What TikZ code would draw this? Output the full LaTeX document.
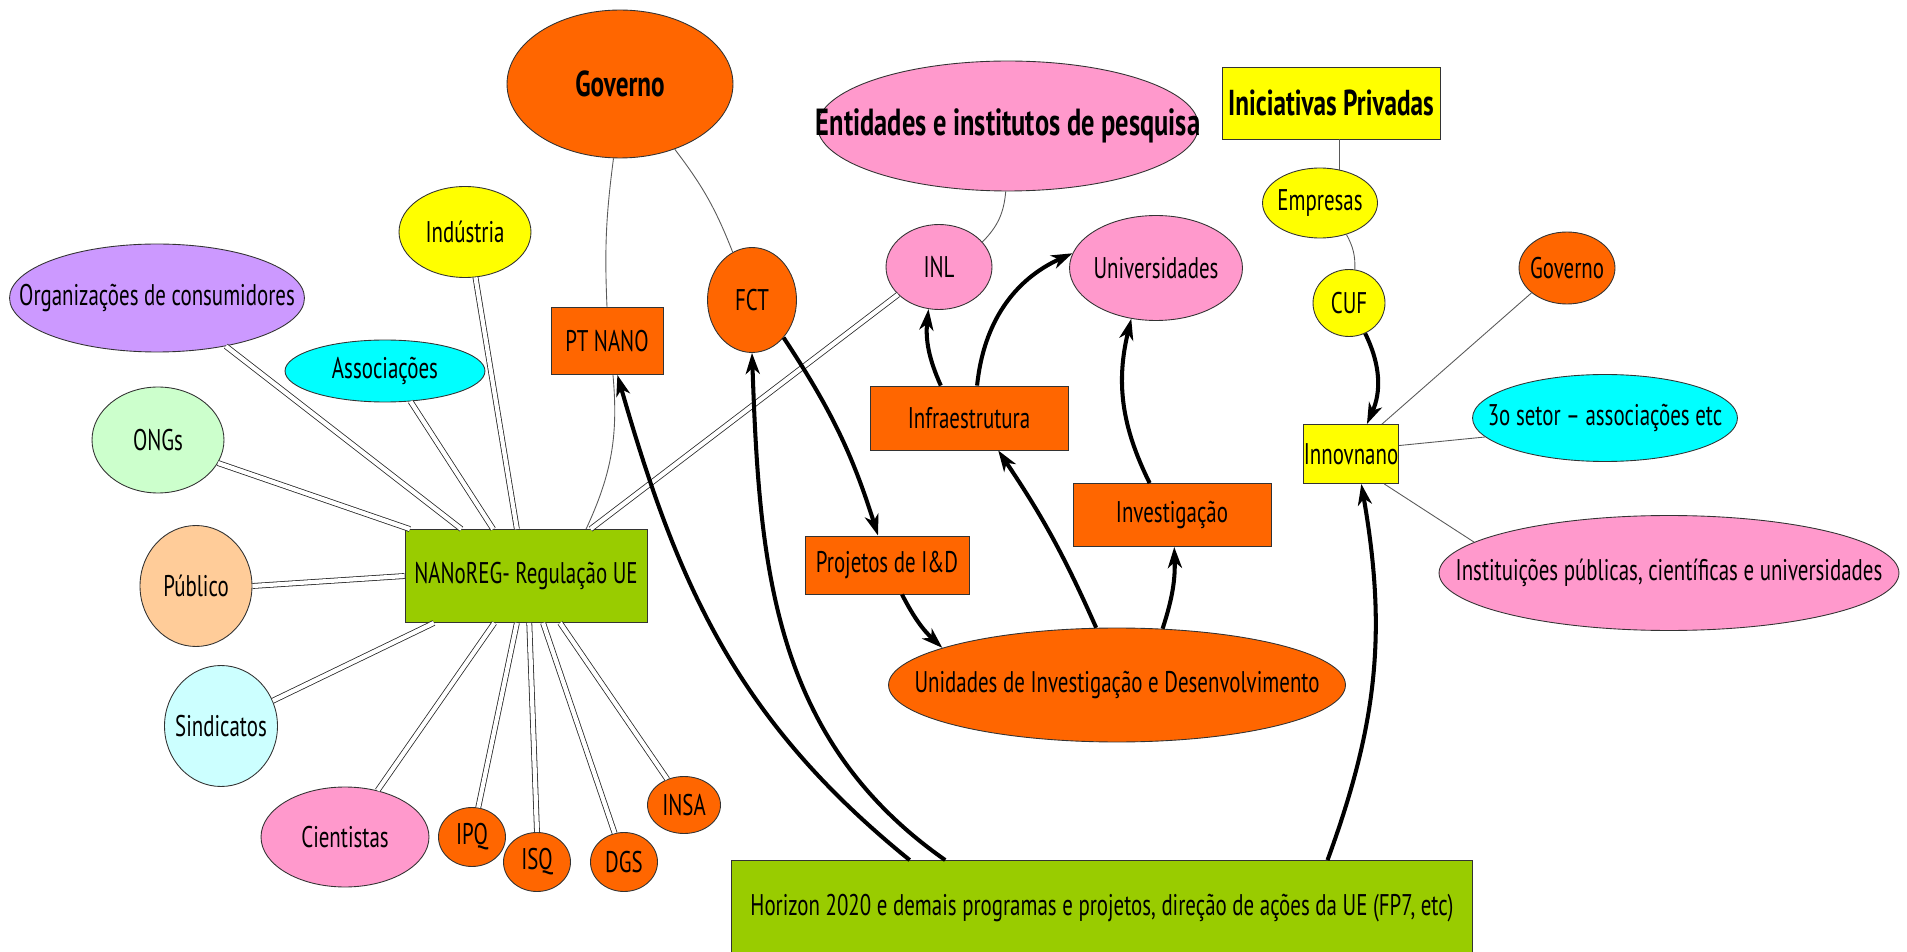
\documentclass[tikz,border=0pt]{standalone}
\usepackage{fontspec}
\setmainfont{PT Sans}[FakeStretch=0.7]
\usetikzlibrary{shapes.geometric,arrows.meta}
\definecolor{laranja}{HTML}{FF6600}
\definecolor{rosa}{HTML}{FF99CC}
\definecolor{amarelo}{HTML}{FFFF00}
\definecolor{ciano}{HTML}{00FFFF}
\definecolor{cianoclaro}{HTML}{CCFFFF}
\definecolor{verdeclaro}{HTML}{CCFFCC}
\definecolor{pessego}{HTML}{FFCC99}
\definecolor{lilas}{HTML}{CC99FF}
\definecolor{verde}{HTML}{99CC00}

\begin{document}
\begin{tikzpicture}[x=0.02cm,y=0.02cm,
  elip/.style={ellipse,draw=black!80,line width=0.5pt,inner sep=0pt,font=\fontsize{17}{19}\selectfont,
    execute at begin node={\hbox to 0pt\bgroup\hss},execute at end node={\hss\egroup}},
  caixa/.style={rectangle,draw=black!80,line width=0.5pt,inner sep=0pt,font=\fontsize{17}{19}\selectfont},
  titulo/.style={font=\fontsize{20.5}{24}\selectfont\bfseries},
  liga/.style={draw=black!65,line width=0.5pt},
  dupla/.style={double=white,double distance=2.4pt,draw=black!85,line width=0.45pt},
  seta/.style={line width=2.3pt,-{Stealth[length=12pt,width=8pt,inset=3.5pt]}}]
\useasboundingbox (0,0) rectangle (1907,951);

\node[elip,titulo,fill=laranja,minimum width=4.52cm,minimum height=2.96cm] (gov) at (620,867) {Governo};
\node[elip,titulo,font=\fontsize{21.5}{24}\selectfont\bfseries,fill=rosa,minimum width=7.62cm,minimum height=2.6cm] (ent) at (1008,825) {Entidades e institutos de pesquisa};
\node[caixa,titulo,fill=amarelo,minimum width=4.36cm,minimum height=1.44cm] (inic) at (1331,848) {Iniciativas Privadas};
\node[elip,fill=amarelo,minimum width=2.64cm,minimum height=1.82cm] (ind) at (465,719) {Indústria};
\node[elip,fill=lilas,minimum width=5.9cm,minimum height=2.16cm] (org) at (157,653) {Organizações de consumidores};
\node[elip,fill=ciano,minimum width=4cm,minimum height=1.24cm] (assoc) at (385,580) {Associações};
\node[caixa,fill=laranja,minimum width=2.24cm,minimum height=1.34cm] (ptnano) at (607,610) {PT NANO};
\node[elip,fill=laranja,minimum width=1.78cm,minimum height=2.1cm] (fct) at (752,651) {FCT};
\node[elip,fill=rosa,minimum width=2.12cm,minimum height=1.7cm] (inl) at (939,684) {INL};
\node[elip,fill=rosa,minimum width=3.46cm,minimum height=2.1cm] (univ) at (1156,683) {Universidades};
\node[elip,fill=amarelo,minimum width=2.3cm,minimum height=1.4cm] (emp) at (1320,748) {Empresas};
\node[elip,fill=amarelo,minimum width=1.44cm,minimum height=1.34cm] (cuf) at (1349,648) {CUF};
\node[elip,fill=laranja,minimum width=1.92cm,minimum height=1.44cm] (govr) at (1567,683) {Governo};
\node[elip,fill=ciano,minimum width=5.3cm,minimum height=1.74cm] (setor) at (1605,533) {3o setor -- associações etc};
\node[caixa,fill=amarelo,minimum width=1.9cm,minimum height=1.18cm] (innov) at (1351,497) {Innovnano};
\node[elip,fill=rosa,minimum width=9.2cm,minimum height=2.3cm] (inst) at (1669,378) {Instituições públicas, científicas e universidades};
\node[elip,fill=verdeclaro,minimum width=2.64cm,minimum height=2.12cm] (ongs) at (158,511) {ONGs};
\node[caixa,fill=laranja,minimum width=3.96cm,minimum height=1.28cm] (infra) at (969,533) {Infraestrutura};
\node[caixa,fill=laranja,minimum width=3.96cm,minimum height=1.26cm] (invest) at (1172,436) {Investigação};
\node[elip,fill=pessego,minimum width=2.24cm,minimum height=2.42cm] (pub) at (196,365) {Público};
\node[caixa,fill=verde,minimum width=4.84cm,minimum height=1.86cm] (nanoreg) at (526,375) {NANoREG- Regulação UE};
\node[caixa,fill=laranja,minimum width=3.28cm,minimum height=1.16cm] (proj) at (887,386) {Projetos de I\&D};
\node[elip,fill=laranja,minimum width=9.14cm,minimum height=2.28cm] (unid) at (1117,266) {Unidades de Investigação e Desenvolvimento};
\node[elip,fill=cianoclaro,minimum width=2.26cm,minimum height=2.42cm] (sind) at (221,225) {Sindicatos};
\node[elip,fill=rosa,minimum width=3.36cm,minimum height=2cm] (cient) at (345,114) {Cientistas};
\node[elip,fill=laranja,minimum width=1.34cm,minimum height=1.18cm] (ipq) at (472,114) {IPQ};
\node[elip,fill=laranja,minimum width=1.34cm,minimum height=1.18cm] (isq) at (537,89) {ISQ};
\node[elip,fill=laranja,minimum width=1.34cm,minimum height=1.18cm] (dgs) at (624,89) {DGS};
\node[elip,fill=laranja,minimum width=1.46cm,minimum height=1.14cm] (insa) at (684,146) {INSA};
\node[caixa,fill=verde,minimum width=14.82cm,minimum height=1.9cm] (hz) at (1102,43) {Horizon 2020 e demais programas e projetos, direção de ações da UE (FP7, etc)};

\draw[liga] (gov.-95) to[bend right=5] (ptnano.north);
\draw[liga] (gov.-50) to[bend left=8] (fct.112);
\draw[liga] (ent.-92) to[bend left=20] (inl.30);
\draw[liga] (inic.south -| emp.60) -- (emp.60);
\draw[liga] (emp.-50) to[bend left=15] (cuf.80);
\draw[liga] (innov.44) -- (govr.215);
\draw[liga] (innov.10) -- (setor.189);
\draw[liga] (innov.-42) -- (inst.171);
\draw[liga] (ptnano.-80) to[bend left=15] (nanoreg.38);

\draw[dupla] (org.-35) -- (nanoreg.144);
\draw[dupla] (assoc.-50) -- (nanoreg.125);
\draw[dupla] (ind.-77) -- (nanoreg.101);
\draw[dupla] (ongs.-21) -- (nanoreg.158);
\draw[dupla] (pub.0) -- (nanoreg.180);
\draw[dupla] (sind.26) -- (nanoreg.207);
\draw[dupla] (cient.55) -- (nanoreg.236);
\draw[dupla] (ipq.78) -- (nanoreg.259);
\draw[dupla] (isq.north) -- (nanoreg.274);
\draw[dupla] (dgs.108) -- (nanoreg.290);
\draw[dupla] (insa.123) -- (nanoreg.306);
\draw[dupla] (inl.214) -- (nanoreg.36);

\draw[seta] (hz.166) to[out=141,in=-74] (ptnano.-73);
\draw[seta] (hz.163) to[out=145,in=-88] (fct.south);
\draw[seta] (fct.-50) to[bend left=8] (proj.107);
\draw[seta] (proj.-63) to[bend right=10] (unid.168);
\draw[seta] (unid.110) to[bend right=5] (infra.-48);
\draw[seta] (unid.51) to[bend right=10] (invest.-86);
\draw[seta] (infra.131) to[bend left=15] (inl.-104);
\draw[seta] (infra.76) to[bend left=30] (univ.170);
\draw[seta] (invest.125) to[bend left=20] (univ.-116);
\draw[seta] (cuf.-62) to[bend left=25] (innov.62);
\draw[seta] (hz.12) to[bend right=15] (innov.-71);
\end{tikzpicture}
\end{document}
